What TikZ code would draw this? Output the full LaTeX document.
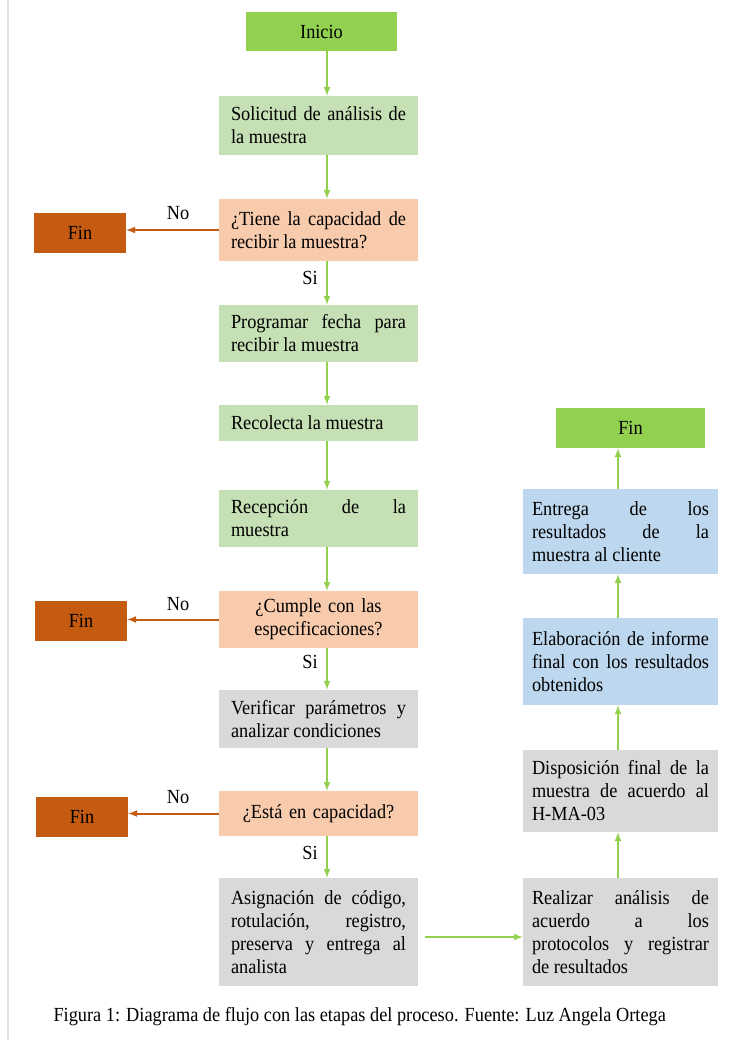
\documentclass[tikz,border=0pt]{standalone}
\usepackage{fontspec}
\setmainfont{Liberation Serif}[FakeStretch=0.915]
\usepackage{xcolor}
\usetikzlibrary{arrows}

\definecolor{verde}{HTML}{92D050}
\definecolor{verdeclaro}{HTML}{C5E0B4}
\definecolor{salmon}{HTML}{F8CBAD}
\definecolor{naranja}{HTML}{C55A11}
\definecolor{gris}{HTML}{D9D9D9}
\definecolor{azul}{HTML}{BDD7EE}

\begin{document}
\begin{tikzpicture}[x=1pt, y=-1pt,
		texto/.style={font=\fontsize{20}{23}\selectfont},
		caja/.style={texto, rectangle, inner xsep=12pt, inner ysep=2pt, text width=175pt, align=justify},
		cajader/.style={caja, inner xsep=9pt, text width=177pt},
		terminal/.style={texto, rectangle, fill=naranja, minimum width=92pt, minimum height=40pt, align=center},
		flecha/.style={-latex, line width=2pt, draw=verde},
		flechano/.style={-latex, line width=2pt, draw=naranja}]
		\useasboundingbox (0,0) rectangle (738,1040);
		\draw[gris!80, line width=1.5pt] (8,0) -- (8,1040);

		\coordinate (mx) at (327, 0);
		\coordinate (rx) at (618, 0);

		% columna principal
		\node[caja, fill=verde, text width=127pt, minimum height=39pt, align=center] (inicio) at (321.5, 31.5) {Inicio};
		\node[caja, fill=verdeclaro, minimum height=59pt] (solicitud) at (318.5, 125.5) {Solicitud de análisis de\linebreak la muestra};
		\node[caja, fill=salmon, minimum height=62pt] (tiene) at (318.5, 230) {¿Tiene la capacidad de\linebreak recibir la muestra?};
		\node[caja, fill=verdeclaro, minimum height=57pt] (programar) at (318.5, 333.5) {Programar fecha para\linebreak recibir la muestra};
		\node[caja, fill=verdeclaro, minimum height=36pt] (recolecta) at (318.5, 423) {Recolecta la muestra};
		\node[caja, fill=verdeclaro, minimum height=57pt] (recepcion) at (318.5, 518.5) {Recepción de la\linebreak muestra};
		\node[caja, fill=salmon, minimum height=57pt, align=center] (cumple) at (318.5, 619.5) {¿Cumple con las\\ especificaciones?};
		\node[caja, fill=gris, minimum height=58pt] (verificar) at (318.5, 719) {Verificar parámetros y\linebreak analizar condiciones};
		\node[caja, fill=salmon, minimum height=45pt, align=center] (esta) at (318.5, 813.5) {¿Está en capacidad?};
		\node[caja, fill=gris, minimum height=108pt] (asignacion) at (318.5, 932) {Asignación de código,\linebreak rotulación, registro,\linebreak preserva y entrega al\linebreak analista};

		% salidas por No
		\node[terminal] (fin1) at (80, 233) {Fin};
		\node[terminal] (fin2) at (81, 620.5) {Fin};
		\node[terminal] (fin3) at (82, 817) {Fin};

		% columna derecha
		\node[cajader, fill=gris, minimum height=108pt] (realizar) at (620.5, 932) {Realizar análisis de\linebreak acuerdo a los\linebreak protocolos y registrar\linebreak de resultados};
		\node[cajader, fill=gris, minimum height=82pt] (disposicion) at (620.5, 791) {Disposición final de la\linebreak muestra de acuerdo al\linebreak H-MA-03};
		\node[cajader, fill=azul, minimum height=87pt] (elaboracion) at (620.5, 661.5) {Elaboración de informe\linebreak final con los resultados\linebreak obtenidos};
		\node[cajader, fill=azul, minimum height=85pt] (entrega) at (620.5, 531.5) {Entrega de los\linebreak resultados de la\linebreak muestra al cliente};
		\node[caja, fill=verde, text width=125pt, minimum height=40pt, align=center] (fin4) at (630.5, 428) {Fin};

		% etiquetas
		\node[texto] (no1) at (178, 213) {No};
		\node[texto] (no2) at (178, 604) {No};
		\node[texto] (no3) at (178, 797) {No};
		\node[texto] (si1) at (310, 278) {Si};
		\node[texto] (si2) at (310, 662) {Si};
		\node[texto] (si3) at (310, 853) {Si};

		\foreach \s/\t in {inicio/solicitud, solicitud/tiene, tiene/programar, programar/recolecta, recolecta/recepcion, recepcion/cumple, cumple/verificar, verificar/esta, esta/asignacion} {
			\draw[flecha] (\s.south -| mx) -- (\t.north -| mx);
		}
		\foreach \s/\t in {realizar/disposicion, disposicion/elaboracion, elaboracion/entrega, entrega/fin4} {
			\draw[flecha] (\s.north -| rx) -- (\t.south -| rx);
		}
		\foreach \s/\t in {tiene/fin1, cumple/fin2, esta/fin3} {
			\draw[flechano] (\s.west) -- (\s.west -| \t.east);
		}
		\draw[flecha, shorten <=7pt] ([yshift=-5pt]asignacion.east) -- ([yshift=-5pt]asignacion.east -| realizar.west);

		\node[texto, anchor=west] (pie) at (50, 1017) {Figura 1: Diagrama de flujo con las etapas del proceso. Fuente: Luz Angela Ortega};
	\end{tikzpicture}
\end{document}
